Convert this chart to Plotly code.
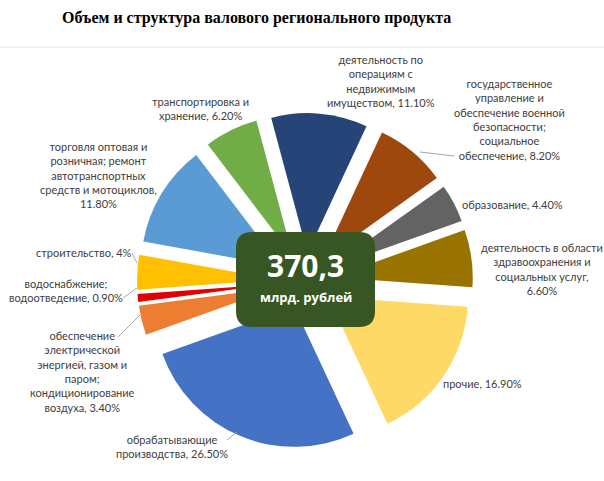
import plotly.graph_objects as go

# ---- data ----
categories = [
    "деятельность по операциям с недвижимым имуществом",
    "государственное управление и обеспечение военной безопасности; социальное обеспечение",
    "образование",
    "деятельность в области здравоохранения и социальных услуг",
    "прочие",
    "обрабатывающие производства",
    "обеспечение электрической энергией, газом и паром; кондиционирование воздуха",
    "водоснабжение; водоотведение",
    "строительство",
    "торговля оптовая и розничная; ремонт автотранспортных средств и мотоциклов",
    "транспортировка и хранение",
]
shares = [11.1, 8.2, 4.4, 6.6, 16.9, 26.5, 3.4, 0.9, 4.0, 11.8, 6.2]
label_texts = [
    "деятельность по<br>операциям с<br>недвижимым<br>имуществом, 11.10%",
    "государственное<br>управление и<br>обеспечение военной<br>безопасности;<br>социальное<br>обеспечение, 8.20%",
    "образование, 4.40%",
    "деятельность в области<br>здравоохранения и<br>социальных услуг,<br>6.60%",
    "прочие, 16.90%",
    "обрабатывающие<br>производства, 26.50%",
    "обеспечение<br>электрической<br>энергией, газом и<br>паром;<br>кондиционирование<br>воздуха, 3.40%",
    "водоснабжение;<br>водоотведение, 0.90%",
    "строительство, 4%",
    "торговля оптовая и<br>розничная; ремонт<br>автотранспортных<br>средств и мотоциклов,<br>11.80%",
    "транспортировка и<br>хранение, 6.20%",
]
total_value = "370,3"
total_unit = "млрд. рублей"
title_text = "Объем и структура валового регионального продукта"

# ---- styles ----
W, H = 604, 481
colors = ["#264478", "#9E480E", "#636363", "#997300", "#FFD966", "#4472C4",
          "#ED7D31", "#E00000", "#FFC000", "#5B9BD5", "#70AD47"]
pulls = [0.2] * len(shares)

cx, cy, ext = 305, 281, 168  # pixel centre and outer extent

def px(x):
    return x / W

def py(y):
    return 1 - y / H

label_pos = [(381, 81), (509, 119), (512, 204), (542, 269), (482, 383),
             (172, 446), (82, 371), (66, 290), (84, 252), (98, 175), (200, 108)]

leaders = [((420, 152), (454, 156)),
           ((227, 440), (237, 432)),
           ((118, 337), (140, 315)),
           ((123, 298), (137, 288)),
           ((132, 253), (137, 263))]

fig = go.Figure()
fig.add_trace(go.Pie(
    labels=categories,
    values=shares,
    sort=False,
    direction="clockwise",
    rotation=-15,
    pull=pulls,
    marker=dict(colors=colors, line=dict(width=0)),
    textinfo="none",
    hoverinfo="label+percent",
    showlegend=False,
    domain=dict(x=[px(cx - ext), px(cx + ext)], y=[py(cy + ext), py(cy - ext)]),
))

shapes = []
# faint separator under title
shapes.append(dict(type="line", xref="paper", yref="paper",
                   x0=0, x1=1, y0=py(47), y1=py(47),
                   line=dict(color="#e6e6e6", width=1)))
for (a, b) in leaders:
    shapes.append(dict(type="line", xref="paper", yref="paper",
                       x0=px(a[0]), y0=py(a[1]), x1=px(b[0]), y1=py(b[1]),
                       line=dict(color="#a6a6a6", width=1)))

# rounded green box
bx0, bx1, by0, by1, rr = 236, 375, 232, 327, 16
def P(x, y):
    return f"{px(x):.5f},{py(y):.5f}"
path = (f"M {P(bx0 + rr, by0)} L {P(bx1 - rr, by0)} Q {P(bx1, by0)} {P(bx1, by0 + rr)} "
        f"L {P(bx1, by1 - rr)} Q {P(bx1, by1)} {P(bx1 - rr, by1)} "
        f"L {P(bx0 + rr, by1)} Q {P(bx0, by1)} {P(bx0, by1 - rr)} "
        f"L {P(bx0, by0 + rr)} Q {P(bx0, by0)} {P(bx0 + rr, by0)} Z")
shapes.append(dict(type="path", xref="paper", yref="paper", path=path,
                   fillcolor="#375623", line=dict(width=0), layer="above"))

annotations = []
for txt, (x, y) in zip(label_texts, label_pos):
    annotations.append(dict(text=txt, x=px(x), y=py(y), xref="paper", yref="paper",
                            xanchor="center", yanchor="middle", align="center",
                            showarrow=False,
                            font=dict(family="Lato", size=11, color="#404040")))
annotations.append(dict(text=f"<b>{total_value}</b>", x=px(305), y=py(265),
                        xref="paper", yref="paper", showarrow=False,
                        xanchor="center", yanchor="middle",
                        font=dict(family="Open Sans", size=30, color="white")))
annotations.append(dict(text=f"<b>{total_unit}</b>", x=px(306), y=py(297),
                        xref="paper", yref="paper", showarrow=False,
                        xanchor="center", yanchor="middle",
                        font=dict(family="Open Sans", size=13, color="white")))
annotations.append(dict(text=f"<b>{title_text}</b>", x=px(256), y=py(18),
                        xref="paper", yref="paper", showarrow=False,
                        xanchor="center", yanchor="middle",
                        font=dict(family="Liberation Serif", size=16, color="#000000")))

fig.update_layout(
    width=W, height=H,
    margin=dict(l=0, r=0, t=0, b=0),
    paper_bgcolor="white", plot_bgcolor="white",
    shapes=shapes, annotations=annotations,
)

fig.write_html("out.html")
